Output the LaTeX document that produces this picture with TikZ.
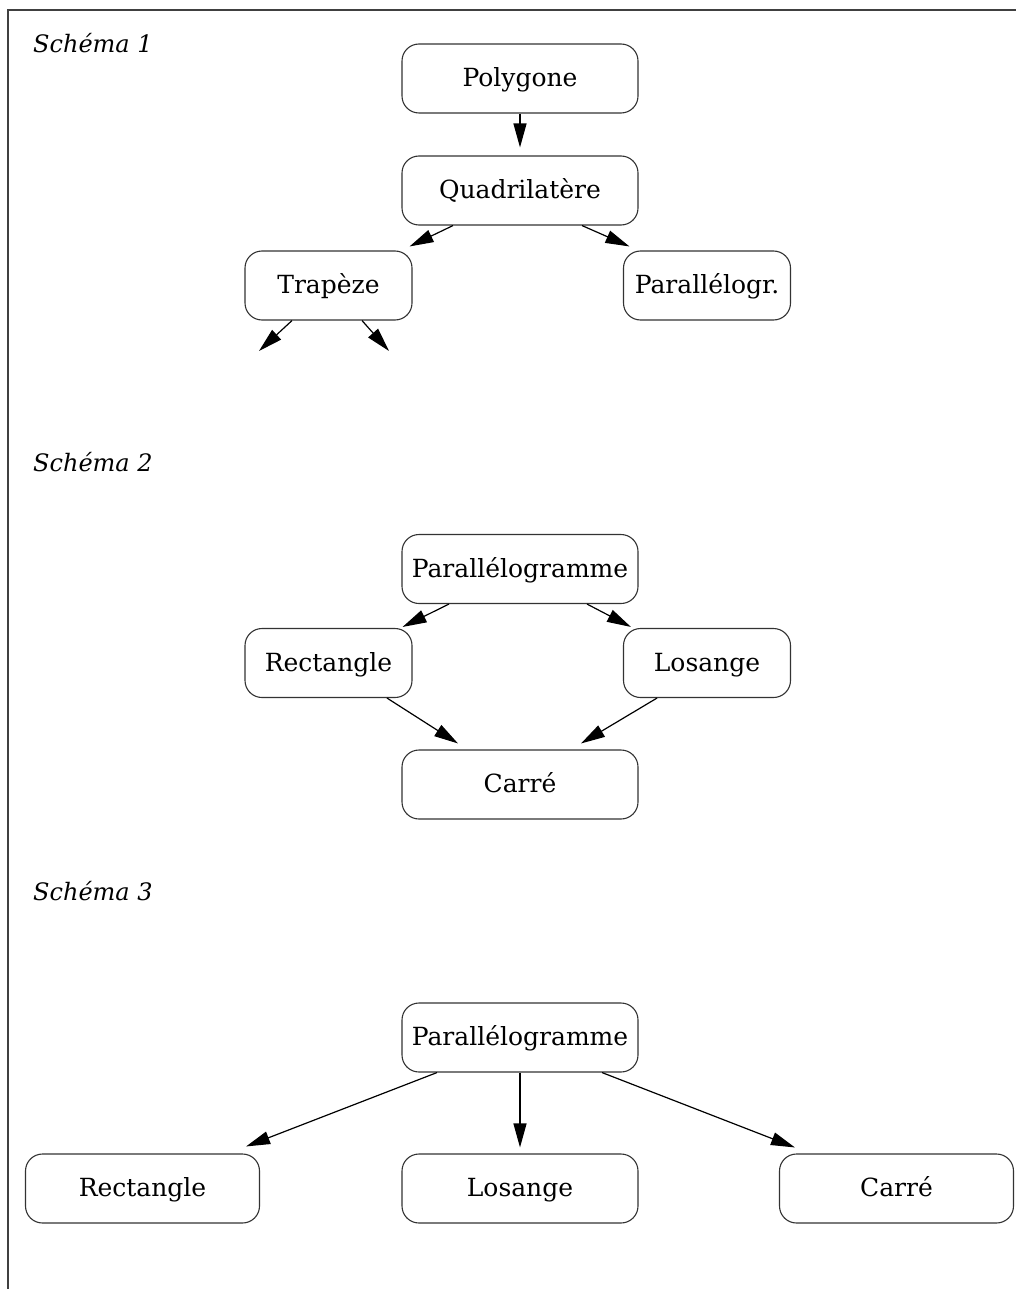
\documentclass[tikz,border=0pt]{standalone}
\usepackage{fontspec}
\setmainfont{DejaVu Serif}
\usetikzlibrary{arrows.meta,calc}
\begin{document}
\begin{tikzpicture}[x=1pt,y=-1pt,
  box/.style={draw=black!80, line width=1.1pt, rounded corners=17pt, minimum height=69pt, inner sep=0pt, text height=20pt, text depth=4pt, font=\fontsize{25}{29}\selectfont},
  wide/.style={box, minimum width=236pt},
  small/.style={box, minimum width=167pt},
  big/.style={box, minimum width=234pt},
  arr/.style={-{Triangle[length=24pt,width=13pt]}, line width=1.2pt},
  lbl/.style={font=\fontsize{24}{28}\selectfont\itshape, anchor=base west, inner sep=0pt}
]
\useasboundingbox (0,0) rectangle (1016,1289);
\draw[line width=2pt, black!75] (1016,10) -- (8,10) -- (8,1289);

% Schema 1
\node[lbl] (s1) at (33,53) {Schéma 1};
\node[wide] (poly) at (520,78.5) {Polygone};
\node[wide] (quad) at (520,190.5) {Quadrilatère};
\node[small] (trap) at (328.5,285.5) {Trapèze};
\node[small] (para1) at (707,285.5) {Parallélogr.};
\coordinate (t1) at (259,351);
\coordinate (t2) at (389,351);
\draw[arr] (poly.south) -- ([yshift=8pt]quad.north);
\draw[arr] ([xshift=-67pt]quad.south) -- ([xshift=-3pt,yshift=4pt]trap.north east);
\draw[arr] ([xshift=62pt]quad.south) -- ([xshift=6.5pt,yshift=4pt]para1.north west);
\draw[arr] ([xshift=-36.5pt]trap.south) -- (t1);
\draw[arr] ([xshift=33.5pt]trap.south) -- (t2);

% Schema 2
\node[lbl] (s2) at (33,471) {Schéma 2};
\node[wide] (para2) at (520,569) {Parallélogramme};
\node[small] (rect2) at (328.5,663) {Rectangle};
\node[small] (los2) at (707,663) {Losange};
\node[wide] (carre2) at (520,784.5) {Carré};
\draw[arr] ([xshift=-71pt]para2.south) -- ([xshift=-10pt,yshift=1pt]rect2.north east);
\draw[arr] ([xshift=67pt]para2.south) -- ([xshift=8pt,yshift=1pt]los2.north west);
\draw[arr] ([xshift=58.5pt]rect2.south) -- ([xshift=-62pt,yshift=6pt]carre2.north);
\draw[arr] ([xshift=-50pt]los2.south) -- ([xshift=61pt,yshift=6pt]carre2.north);

% Schema 3
\node[lbl] (s3) at (33,900) {Schéma 3};
\node[wide] (para3) at (520,1037.5) {Parallélogramme};
\node[big] (rect3) at (142.5,1188.5) {Rectangle};
\node[wide] (los3) at (520,1188.5) {Losange};
\node[big] (carre3) at (896.5,1188.5) {Carré};
\draw[arr] ([xshift=-83pt]para3.south) -- ([xshift=-14pt,yshift=7pt]rect3.north east);
\draw[arr] (para3.south) -- ([yshift=6pt]los3.north);
\draw[arr] ([xshift=82pt]para3.south) -- ([xshift=16pt,yshift=6pt]carre3.north west);
\end{tikzpicture}
\end{document}
